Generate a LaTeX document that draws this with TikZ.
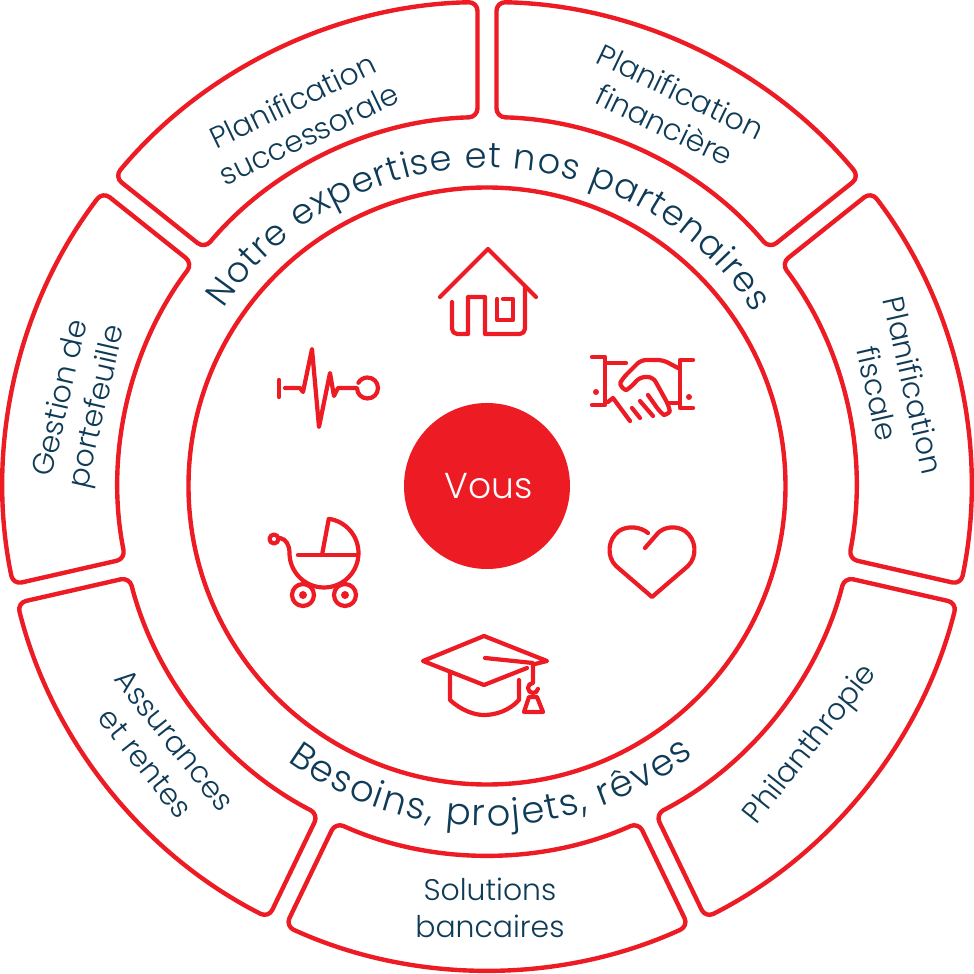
\documentclass[tikz,border=0pt]{standalone}
\usepackage{fontspec}
\setmainfont{Poppins Light}
\usetikzlibrary{decorations.text}
\definecolor{ringred}{HTML}{ED1C24}
\definecolor{inknavy}{HTML}{0F3B57}
\tikzset{
	ringline/.style={draw=ringred, line width=2.5pt, line join=round},
	iconline/.style={draw=ringred, line width=2.4pt, line cap=round, line join=round},
	sectorlabel/.style={text=inknavy, align=center, font=\fontsize{17}{21}\selectfont},
}
\begin{document}
\begin{tikzpicture}[x=0.02cm, y=0.02cm]
	\useasboundingbox (-487,-488) rectangle (487,486);
	\foreach \ang in {115.714,64.286,12.857,-38.571,-90,-141.429,167.143} {
			\pgfmathsetmacro{\lo}{\ang-25.714}
			\pgfmathsetmacro{\hi}{\ang+25.714}
			\draw[ringline, rounded corners=5pt]
				({\hi-1.125}:484) arc ({\hi-1.125}:{\lo+1.125}:484)
				-- ({\lo+1.475}:369) arc ({\lo+1.475}:{\hi-1.475}:369) -- cycle;
		}
	\node[ringline, circle, minimum size=597*0.02cm, inner sep=0pt] (inner) at (0,0) {};
	\node[circle, fill=ringred, minimum size=166*0.02cm, inner sep=0pt, text=white, font=\fontsize{20.5}{24}\selectfont] (vous) at (0,0) {\hspace{2.2pt}Vous};
	\foreach \name/\ang/\rad/\rot/\txt in {
			succ/116.8/413/25.714/{Planification\\successorale},
			fina/63.8/421/-25.714/{Planification\\financière},
			fisc/13.3/420/-77.143/{Planification\\fiscale},
			phil/-38.571/415/51.429/{Philanthropie},
			solu/-89.6/422/0/{Solutions\\bancaires},
			assu/-140.9/421.5/-51.429/{Assurances\\et rentes},
			gest/168.4/415/77.143/{Gestion de\\portefeuille}} {
			\node[sectorlabel, rotate=\rot] (\name) at (\ang:\rad) {\txt};
		}
	\path[decorate, decoration={text along path, text align=fit to path,
			text={|\fontsize{20}{22}\selectfont\color{inknavy}|Notre expertise et nos partenaires}}]
		(146:318) arc (146:33:318);
	\path[decorate, decoration={text along path, text align=fit to path,
			text={|\fontsize{21}{22}\selectfont\color{inknavy}|Besoins, projets, rêves}}]
		(234:340) arc (234:307.5:340);
	\begin{scope}[shift={(-487,486)}, yscale=-1]
		\draw[iconline] (440,297) -- (488,249) -- (536,297);
		\draw[iconline] (452,302) [rounded corners=3pt] -- (452,334) [sharp corners] -- (468,334) -- (468,297) -- (485,297) -- (485,334) [rounded corners=3pt] -- (525,334) -- (525,287);
		\draw[iconline] (503,299) -- (513,299) -- (513,320) -- (497,320) -- (497,299);
		\draw[iconline] (592,357) -- (605,357) -- (605,405) -- (592,405);
		\draw[iconline] (605,363) -- (626,363);
		\draw[iconline] (693,360) -- (680,360) -- (680,408) -- (693,408);
		\draw[iconline] (669,403) -- (680,403);
		\fill[ringred] (596,392) circle (3) (689,397) circle (3);
		\draw[iconline, rounded corners=3pt] (678,368) -- (663,360) -- (641,360) -- (623,378) .. controls (619,385) and (625,391) .. (631,387) -- (640,377) -- (653,377) -- (669,406) .. controls (670,413) and (664,415) .. (660,412) -- (648,395);
		\draw[iconline] (640,401) -- (653,416);
		\draw[iconline] (632,408) -- (640,418);
		\draw[iconline] (608,402) -- (613,398) -- (630,421);
		\draw[iconline] (279,380) -- (279,397);
		\draw[iconline] (285,388) -- (300,388) -- (303,392) -- (312,349) -- (319,427) -- (330,373) -- (334,396) -- (338,388) -- (357,388) arc (180:-150:10.5);
		\draw[iconline] (274,539) circle (4.5);
		\draw[iconline] (280,538) .. controls (286,539) and (289.5,545) .. (289.5,553) arc (180:-82:34.5) -- (322,555);
		\draw[iconline] (298,555) -- (358,555);
		\draw[iconline] (303,595) circle (11) (345,595) circle (11);
		\fill[ringred] (303,595) circle (4) (345,595) circle (4);
		\draw[iconline] (535,664) -- (547,661) -- (484,636) -- (423,661) -- (484,685) -- (527,668);
		\draw[iconline] (485,658) -- (533,663) -- (533,683) arc (-90:-350:5);
		\draw[iconline] (529,697) -- (537,697) -- (543,712) -- (524,712) -- cycle;
		\draw[iconline] (450,673) -- (450,700) .. controls (462,711) and (475,715) .. (484,715) .. controls (495,715) and (509,711) .. (519,700) -- (519,680);
		\draw[iconline] (648,533) .. controls (641,527) and (628,525) .. (619,531) .. controls (608,539) and (606,556) .. (616,566) -- (652,597) -- (688,566) .. controls (698,556) and (696,539) .. (685,531) .. controls (676,525) and (664,527) .. (658,533) -- (645,548);
	\end{scope}
\end{tikzpicture}
\end{document}
